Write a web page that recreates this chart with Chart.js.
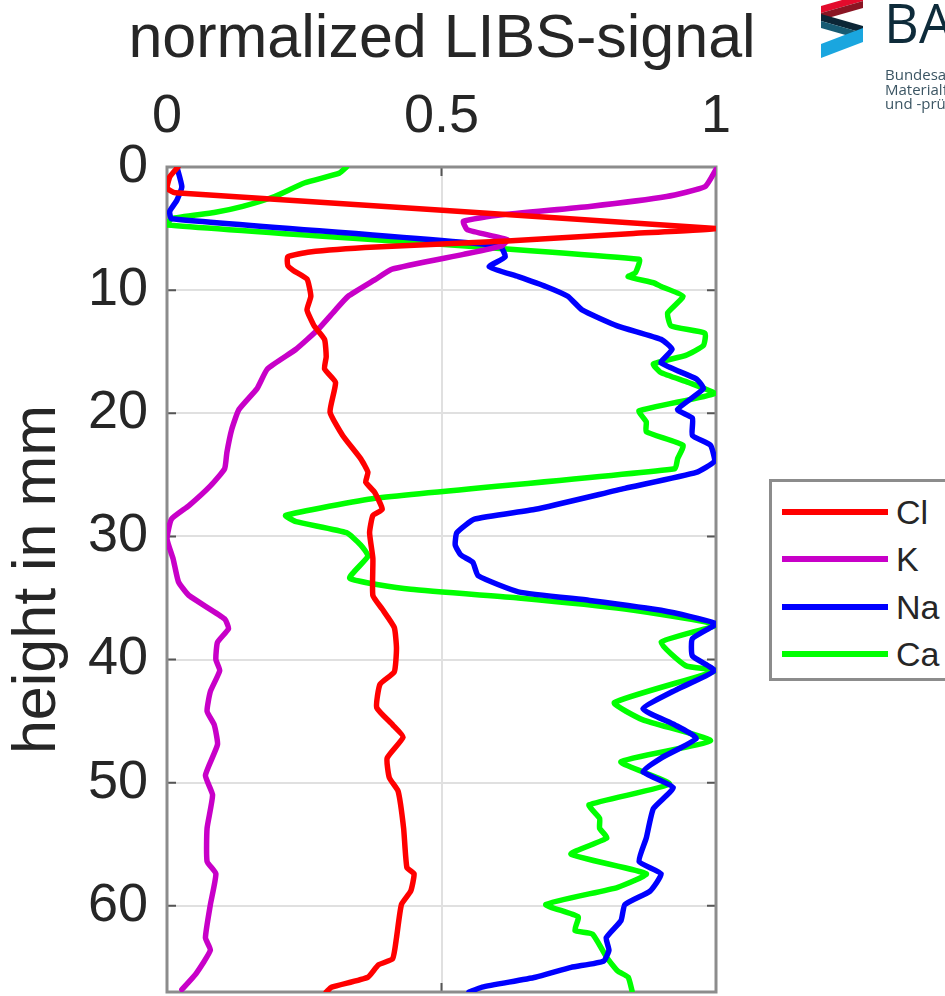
<!DOCTYPE html>
<html>
<head>
<meta charset="utf-8">
<title>normalized LIBS-signal</title>
<script src="https://cdn.jsdelivr.net/npm/chart.js@4.4.1/dist/chart.umd.min.js"></script>
<style>
  html, body { margin: 0; padding: 0; background: #fff; }
  body { width: 945px; height: 996px; position: relative; overflow: hidden; }
  #chart { position: absolute; left: 0; top: 0; }
  .xtitle {
    position: absolute; left: 0; top: 6px; width: 884px; text-align: center;
    font-family: 'Liberation Sans', Arial, sans-serif; font-size: 61px; line-height: 60px;
    color: #262626; white-space: nowrap;
  }
  .legend {
    position: absolute; left: 769px; top: 479px; width: 220px; height: 196px;
    border: 3px solid #8c8c8c; background: #fff;
    font-family: 'Liberation Sans', Arial, sans-serif; font-size: 34px; color: #262626;
  }
  .legend .item { position: absolute; left: 10px; height: 40px; width: 200px; }
  .legend .swatch { position: absolute; left: 0; top: 17px; width: 106px; height: 6px; }
  .legend .label { position: absolute; left: 114px; top: 0; line-height: 40px; }
  .logo { position: absolute; left: 821px; top: 0; }
  .bam {
    position: absolute; left: 884px; top: -5px; font-family: 'Open Sans', sans-serif;
    font-size: 54px; line-height: 54px; color: #0e2b3a; white-space: nowrap;
  }
  .bam-sub {
    position: absolute; left: 885px; top: 67px; font-family: 'Open Sans', sans-serif;
    font-size: 15px; line-height: 14.5px; color: #3b5563; white-space: nowrap;
  }
</style>
</head>
<body>
<canvas id="chart" width="945" height="996"></canvas>

<div class="xtitle">normalized LIBS-signal</div>
<div class="legend" id="legend"></div>

<svg class="logo" width="42" height="58" viewBox="0 0 42 58">
  <polygon points="0,6 42,-6 42,1 0,13" fill="#e30b2c"/>
  <polygon points="0,13 42,1 42,8 0,20" fill="#8a1523"/>
  <polygon points="0,14 42,26 42,33 0,21" fill="#0c2636"/>
  <polygon points="0,21 42,33 42,40 0,28" fill="#175b73"/>
  <polygon points="42,28 42,42 0,58 0,44" fill="#1aa6df"/>
</svg>
<div class="bam">BAM</div>
<div class="bam-sub">Bundesanstalt für<br>Materialforschung<br>und -prüfung</div>

<script>
// Höhe in mm und normiertes Signal je Element
const clHeight = [0, 0.8, 1.7, 2.1, 5.0, 5.4, 6.0, 6.5, 6.9, 7.3, 8.0, 8.4, 9.1, 10.5, 11.6, 12.9, 14.0, 15.4, 16.4, 17.5, 19.9, 21.8, 23.7, 24.8, 25.6, 26.4, 27.8, 28.3, 29.7, 31.8, 34.8, 35.9, 37.4, 39.1, 41.0, 42.0, 43.9, 45.3, 46.3, 48.0, 49.6, 50.7, 53.7, 56.9, 57.4, 58.8, 59.9, 62.6, 64.3, 64.8, 65.8, 66.6, 67];
const clSignal = [0.02, 0.005, 0.0, 0.015, 1.0, 0.85, 0.62, 0.38, 0.26, 0.22, 0.22, 0.23, 0.255, 0.262, 0.255, 0.268, 0.287, 0.29, 0.287, 0.307, 0.297, 0.32, 0.353, 0.366, 0.362, 0.378, 0.392, 0.375, 0.369, 0.375, 0.375, 0.392, 0.414, 0.418, 0.414, 0.388, 0.382, 0.411, 0.43, 0.401, 0.405, 0.421, 0.431, 0.437, 0.45, 0.444, 0.427, 0.418, 0.411, 0.385, 0.366, 0.3, 0.29];

const kHeight = [0.2, 1.6, 2.4, 3.2, 3.9, 4.4, 5.1, 5.9, 6.4, 7.1, 8.3, 9.15, 10.5, 11.6, 13.2, 14.8, 16.4, 18.0, 19.7, 21.3, 23.2, 24.5, 25.9, 27.5, 28.6, 30.2, 31.8, 32.4, 33.7, 34.8, 36.7, 37.5, 38.6, 40.0, 40.9, 42.6, 44.2, 45.3, 46.9, 49.4, 51.0, 53.7, 56.4, 57.4, 59.9, 62.6, 63.6, 65.5, 66.8];
const kSignal = [1.0, 0.98, 0.91, 0.77, 0.606, 0.54, 0.547, 0.62, 0.61, 0.54, 0.41, 0.379, 0.33, 0.307, 0.275, 0.235, 0.183, 0.164, 0.131, 0.118, 0.109, 0.105, 0.079, 0.04, 0.008, 0.0, 0.011, 0.014, 0.021, 0.04, 0.105, 0.112, 0.092, 0.089, 0.096, 0.079, 0.073, 0.086, 0.092, 0.07, 0.083, 0.073, 0.073, 0.089, 0.079, 0.07, 0.079, 0.053, 0.027];

const naHeight = [0, 1.6, 2.7, 3.6, 4.2, 6.4, 7.3, 8.1, 8.9, 9.7, 10.5, 11.6, 12.9, 14.0, 14.8, 15.9, 17.2, 18.0, 19.7, 20.4, 21.8, 22.6, 23.9, 24.8, 26.1, 27.8, 28.6, 29.7, 30.7, 31.5, 32.1, 33.2, 34.5, 35.2, 36.0, 37.1, 38.3, 39.7, 40.9, 42.4, 44.0, 45.3, 46.4, 48.0, 49.1, 50.4, 52.1, 54.5, 56.4, 57.4, 58.8, 59.9, 61.2, 62.6, 63.6, 64.5, 65.0, 65.8, 66.6, 67];
const naSignal = [0.018, 0.027, 0.018, 0.005, 0.008, 0.606, 0.616, 0.587, 0.64, 0.69, 0.73, 0.756, 0.82, 0.9, 0.92, 0.9, 0.964, 0.977, 0.93, 0.957, 0.957, 0.99, 0.997, 0.964, 0.834, 0.671, 0.56, 0.528, 0.525, 0.535, 0.557, 0.567, 0.64, 0.77, 0.9, 1.0, 0.957, 0.957, 0.997, 0.93, 0.867, 0.925, 0.964, 0.9, 0.867, 0.922, 0.886, 0.873, 0.86, 0.9, 0.88, 0.834, 0.827, 0.8, 0.805, 0.795, 0.736, 0.671, 0.574, 0.55];

const caHeight = [0, 0.5, 1.3, 2.4, 3.2, 3.7, 4.2, 4.7, 7.5, 8.6, 8.9, 9.4, 9.7, 10.5, 11.85, 12.9, 13.5, 14.5, 15.3, 16.0, 16.7, 17.5, 18.4, 19.8, 20.7, 21.5, 22.6, 23.7, 24.5, 26.9, 28.3, 28.8, 29.7, 30.7, 31.6, 33.4, 34.3, 35.0, 35.9, 37.2, 38.6, 40.5, 40.9, 43.5, 44.9, 46.6, 48.3, 50.1, 51.8, 52.9, 53.7, 54.5, 55.8, 57.4, 58.5, 59.9, 60.9, 62.0, 62.3, 64.2, 65.3, 65.8, 66.9];
const caSignal = [0.327, 0.314, 0.25, 0.196, 0.138, 0.086, 0.008, 0.0, 0.86, 0.853, 0.84, 0.886, 0.9, 0.94, 0.912, 0.918, 0.98, 0.977, 0.945, 0.886, 0.9, 0.95, 0.997, 0.86, 0.873, 0.873, 0.94, 0.93, 0.925, 0.379, 0.216, 0.235, 0.327, 0.353, 0.366, 0.333, 0.444, 0.64, 0.834, 1.0, 0.9, 0.945, 1.0, 0.815, 0.867, 0.99, 0.827, 0.915, 0.769, 0.788, 0.788, 0.801, 0.736, 0.873, 0.821, 0.69, 0.749, 0.743, 0.775, 0.801, 0.821, 0.84, 0.847];

const seriesNames = ["Cl", "K", "Na", "Ca"];
const seriesColors = ["#ff0000", "#c800c8", "#0000ff", "#00ff00"];
const xTicks = [0, 0.5, 1];
const yTicks = [0, 10, 20, 30, 40, 50, 60];

const FONT = "'Liberation Sans', Arial, Helvetica, sans-serif";

function toPoints(heights, signals) {
    return heights.map((h, i) => ({ x: signals[i], y: h }));
}

const allSeries = [
    toPoints(clHeight, clSignal),
    toPoints(kHeight, kSignal),
    toPoints(naHeight, naSignal),
    toPoints(caHeight, caSignal),
];

// Rahmen und nach innen zeigende Ticks wie in MATLAB
const boxPlugin = {
    id: "box",
    beforeDatasetsDraw(chart) {
        const { ctx, chartArea: a, scales } = chart;
        ctx.save();
        ctx.strokeStyle = "#555";
        ctx.lineWidth = 2;
        ctx.beginPath();
        xTicks.forEach((v) => {
            const px = scales.x.getPixelForValue(v);
            ctx.moveTo(px, a.top); ctx.lineTo(px, a.top + 9);
            ctx.moveTo(px, a.bottom); ctx.lineTo(px, a.bottom - 9);
        });
        yTicks.forEach((v) => {
            const py = scales.y.getPixelForValue(v);
            ctx.moveTo(a.left, py); ctx.lineTo(a.left + 9, py);
            ctx.moveTo(a.right, py); ctx.lineTo(a.right - 9, py);
        });
        ctx.stroke();
        ctx.strokeStyle = "#8c8c8c";
        ctx.lineWidth = 3;
        ctx.strokeRect(a.left, a.top, a.right - a.left, a.bottom - a.top);
        ctx.restore();
    },
};

new Chart(document.getElementById("chart"), {
    type: "scatter",
    data: {
        datasets: allSeries.map((pts, i) => ({
            label: seriesNames[i],
            data: pts,
            showLine: true,
            borderColor: seriesColors[i],
            backgroundColor: seriesColors[i],
            borderWidth: 5.5,
            pointRadius: 0,
            tension: 0.15,
            borderJoinStyle: "round",
            borderCapStyle: "round",
        })),
    },
    options: {
        responsive: false,
        animation: false,
        layout: { padding: { left: 0, top: 0, right: 229, bottom: 4 } },
        plugins: {
            legend: { display: false },
            tooltip: { enabled: false },
        },
        scales: {
            x: {
                type: "linear",
                position: "top",
                min: 0,
                max: 1,
                afterFit: (s) => { s.height = 167; s.paddingLeft = 0; s.paddingRight = 0; },
                afterBuildTicks: (s) => { s.ticks = xTicks.map((v) => ({ value: v })); },
                ticks: {
                    font: { family: FONT, size: 54 },
                    color: "#262626",
                    padding: 17,
                    maxRotation: 0,
                    callback: (v) => String(v),
                },
                grid: { color: "#e0e0e0", lineWidth: 2, drawTicks: false },
                border: { display: false },
            },
            y: {
                type: "linear",
                reverse: true,
                min: 0,
                max: 67,
                afterFit: (s) => { s.width = 167; s.paddingTop = 0; s.paddingBottom = 0; },
                afterBuildTicks: (s) => { s.ticks = yTicks.map((v) => ({ value: v })); },
                ticks: {
                    font: { family: FONT, size: 54 },
                    color: "#262626",
                    padding: 19,
                    callback: (v) => String(v),
                },
                grid: { color: "#e0e0e0", lineWidth: 2, drawTicks: false },
                border: { display: false },
                title: {
                    display: true,
                    text: "height in mm",
                    font: { family: FONT, size: 61 },
                    color: "#262626",
                    padding: { top: 2, bottom: 0 },
                },
            },
        },
    },
    plugins: [boxPlugin],
});

// Legende als HTML-Kasten rechts neben dem Diagramm
const legendBox = document.getElementById("legend");
seriesNames.forEach((name, i) => {
    const item = document.createElement("div");
    item.className = "item";
    item.style.top = 10 + i * 47.3 + "px";
    item.innerHTML = `<span class="swatch" style="background:${seriesColors[i]}"></span><span class="label">${name}</span>`;
    legendBox.appendChild(item);
});
</script>
</body>
</html>
